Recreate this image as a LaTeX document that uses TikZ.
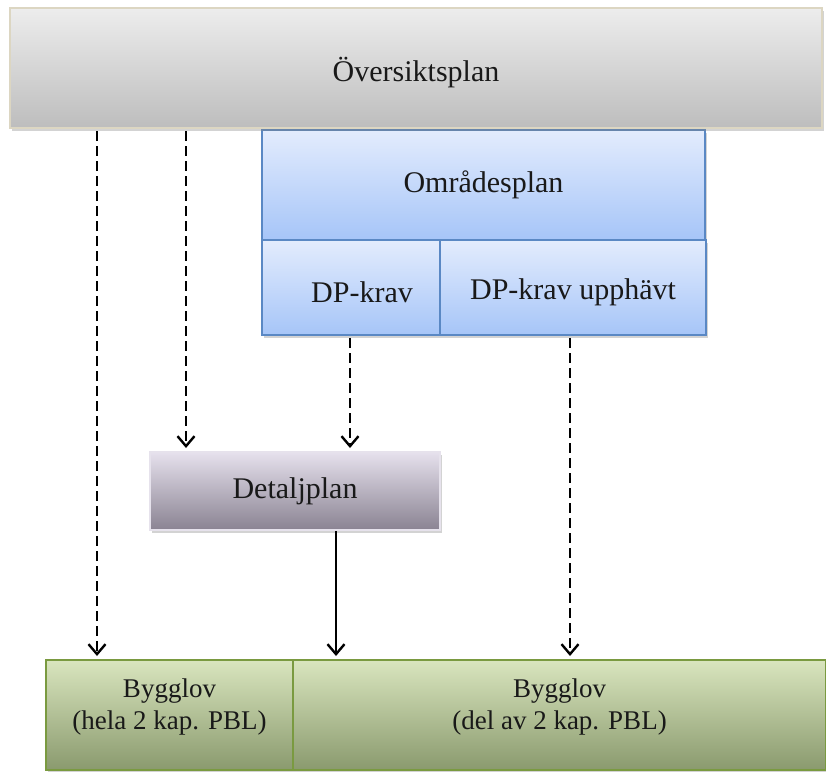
\documentclass[tikz,border=0pt]{standalone}
\usepackage{fontspec}
\setmainfont{Liberation Serif}
\usepackage{tikz}
\usetikzlibrary{shapes,arrows.meta,positioning,calc,shadows}

\definecolor{ospTop}{HTML}{EDEDED}
\definecolor{ospBot}{HTML}{BDBDBD}
\definecolor{ospRand}{HTML}{DCD6C2}
\definecolor{omrTop}{HTML}{E3ECFD}
\definecolor{omrBot}{HTML}{A6C5F8}
\definecolor{omrRand}{HTML}{5A88C4}
\definecolor{detTop}{HTML}{E6E1ED}
\definecolor{detBot}{HTML}{8A8392}
\definecolor{detRand}{HTML}{E6E2EC}
\definecolor{bygTop}{HTML}{D9E5BE}
\definecolor{bygBot}{HTML}{8A9A6E}
\definecolor{bygRand}{HTML}{7A9A40}

\tikzset{
  planbox/.style={draw, line width=2pt, inner sep=0pt, align=center,
    font=\fontsize{30}{34}\selectfont, text=black!90,
    drop shadow={opacity=0.35, shadow xshift=2pt, shadow yshift=-3pt}},
  graybox/.style={planbox, line width=2.8pt, draw=ospRand, top color=ospTop, bottom color=ospBot},
  bluebox/.style={planbox, draw=omrRand, top color=omrTop, bottom color=omrBot},
  lilabox/.style={planbox, draw=detRand, top color=detTop, bottom color=detBot},
  greenbox/.style={planbox, draw=bygRand, top color=bygTop, bottom color=bygBot,
    font=\fontsize{27}{32}\selectfont},
  pil/.style={line width=2.4pt, -{Straight Barb[length=10pt,width=17pt]}, shorten >=3pt},
  streckpil/.style={pil, dash pattern=on 10pt off 5pt}
}

\begin{document}
\begin{tikzpicture}[x=1pt,y=-1pt]
  \useasboundingbox (0,0) rectangle (826,771);

  % bygglov at the bottom
  \node[greenbox, minimum width=247pt, minimum height=110pt] (bygg1) at (169.5,715)
    {\begin{tabular}[b]{@{}c@{}}Bygglov\\(hela 2 kap. PBL)\end{tabular}\rule[-26pt]{0pt}{0pt}};
  \node[greenbox, minimum width=533pt, minimum height=110pt] (bygg2) at (559.5,715)
    {\begin{tabular}[b]{@{}c@{}}Bygglov\\(del av 2 kap. PBL)\end{tabular}\rule[-26pt]{0pt}{0pt}};

  % detaljplan
  \node[lilabox, minimum width=290pt, minimum height=78pt] (detalj) at (295,491) {Detaljplan};

  % omradesplan with its two parts
  \node[bluebox, minimum width=443pt, minimum height=110pt] (omrade) at (483.5,185) {Områdesplan};
  \node[bluebox, minimum width=178pt, minimum height=95pt] (dpkrav) at (351,287.5) {\hspace*{22pt}DP-krav\rule{0pt}{30pt}};
  \node[bluebox, minimum width=266pt, minimum height=95pt] (dpupph) at (573,287.5) {DP-krav upphävt\rule{0pt}{30pt}};

  % oversiktsplan on top
  \node[graybox, minimum width=812pt, minimum height=120pt] (oversikt) at (416,68) {Översiktsplan\rule{0pt}{34pt}};

  % columns of the arrows
  \coordinate (colA) at (97,0);
  \coordinate (colB) at (186,0);
  \coordinate (colC) at (350,0);
  \coordinate (colD) at (336,0);
  \coordinate (colE) at (570,0);

  \draw[streckpil] ([yshift=-2pt]oversikt.south -| colA) -- (bygg1.north -| colA);
  \draw[streckpil] ([yshift=-2pt]oversikt.south -| colB) -- (detalj.north -| colB);
  \draw[streckpil] ([yshift=-2pt]dpkrav.south -| colC) -- (detalj.north -| colC);
  \draw[pil] (detalj.south -| colD) -- (bygg2.north -| colD);
  \draw[streckpil] ([yshift=-2pt]dpupph.south -| colE) -- (bygg2.north -| colE);
\end{tikzpicture}
\end{document}
